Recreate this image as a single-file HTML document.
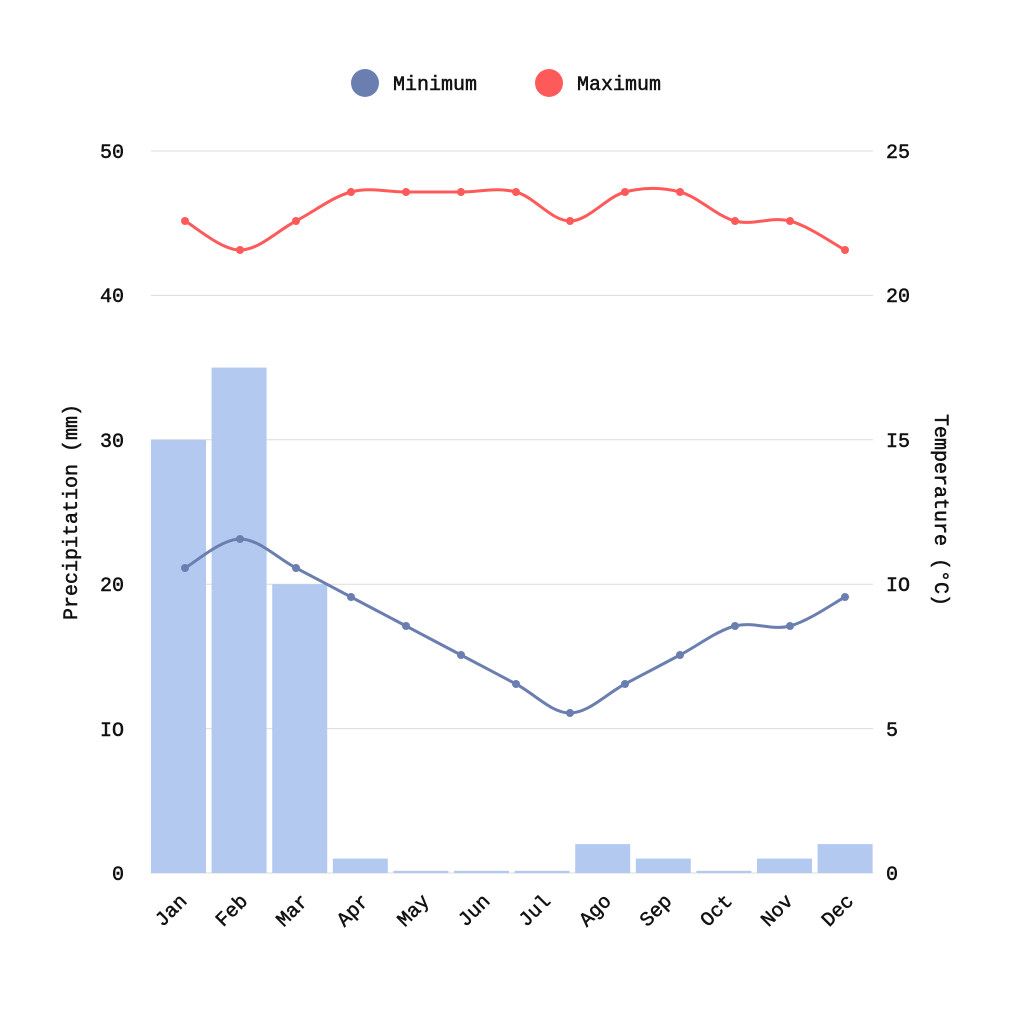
<!DOCTYPE html>
<html><head><meta charset="utf-8"><style>
html,body{margin:0;padding:0;background:#fff;}
svg text{font-family:"Liberation Mono",monospace;fill:#111;stroke:#111;stroke-width:0.5px;}
</style></head><body>
<svg id="c" width="1024" height="1024" viewBox="0 0 1024 1024" xmlns="http://www.w3.org/2000/svg">
<g stroke="#dcdcdc" stroke-width="1">
<line x1="151" y1="151" x2="873" y2="151"/>
<line x1="151" y1="295.4" x2="873" y2="295.4"/>
<line x1="151" y1="439.8" x2="873" y2="439.8"/>
<line x1="151" y1="584.2" x2="873" y2="584.2"/>
<line x1="151" y1="728.6" x2="873" y2="728.6"/>
<line x1="151" y1="873" x2="873" y2="873"/>
</g>
<g font-size="20" text-anchor="end">
<text x="124" y="158">50</text><text x="124" y="302">40</text><text x="124" y="447">30</text>
<text x="124" y="591">20</text><text x="124" y="736">IO</text><text x="124" y="880">0</text>
</g>
<g font-size="20" text-anchor="start">
<text x="886" y="158">25</text><text x="886" y="302">20</text><text x="886" y="447">I5</text>
<text x="886" y="591">IO</text><text x="886" y="736">5</text><text x="886" y="880">0</text>
</g>
<text font-size="20" transform="translate(77,512) rotate(-90)" text-anchor="middle">Precipitation (mm)</text>
<text font-size="20" transform="translate(935,510) rotate(90)" text-anchor="middle">Temperature (°C)</text>
<circle cx="365" cy="83" r="14" fill="#6a7fb0"/>
<text x="393" y="90" font-size="20">Minimum</text>
<circle cx="549" cy="83" r="14" fill="#ff5a5a"/>
<text x="577" y="90" font-size="20">Maximum</text>
<g id="bars" fill="#b3c9f0"></g>
<g id="xl" font-size="20" text-anchor="end"></g>
<g id="lines"></g>
</svg>
<script>
var ns="http://www.w3.org/2000/svg",svg=document.getElementById('c');
function el(t,a,p){var e=document.createElementNS(ns,t);for(var k in a)e.setAttribute(k,a[k]);(p||svg).appendChild(e);return e;}
var rain=[30,35,20,1,0.15,0.15,0.15,2,1,0.15,1,2];
var mon=["Jan","Feb","Mar","Apr","May","Jun","Jul","Ago","Sep","Oct","Nov","Dec"];
var bg=document.getElementById('bars'),xl=document.getElementById('xl');
for(var i=0;i<12;i++){var x=151+i*60.6,h=rain[i]*14.44,w=Math.min(55,873-x);
el('rect',{x:x,y:873-h,width:w,height:h},bg);
var cx=x+27+10,t=el('text',{transform:'translate('+cx+',902) rotate(-45)'},xl);t.textContent=mon[i];}
var xs=[185,240,296,351,406,461,516,570,625,680,735,790,845];
var mn=[568,539,568,597,626,655,684,713,684,655,626,626,597];
var mx=[221,250,221,192,192,192,192,221,192,192,221,221,250];
var lg=document.getElementById('lines');
function curve(ys,col){var d='M'+xs[0]+','+ys[0];
for(var i=0;i<xs.length-1;i++){var p0=i>0?i-1:i,p3=i+2<xs.length?i+2:i+1,t=0.17;
var c1x=xs[i]+(xs[i+1]-xs[p0])*t,c1y=ys[i]+(ys[i+1]-ys[p0])*t;
var c2x=xs[i+1]-(xs[p3]-xs[i])*t,c2y=ys[i+1]-(ys[p3]-ys[i])*t;
d+=' C'+c1x+','+c1y+' '+c2x+','+c2y+' '+xs[i+1]+','+ys[i+1];}
el('path',{d:d,fill:'none',stroke:col,'stroke-width':3},lg);
for(var i=0;i<xs.length;i++)el('circle',{cx:xs[i],cy:ys[i],r:4,fill:col},lg);}
curve(mn,'#6a7fb0');curve(mx,'#ff5a5a');
</script>
</body></html>
